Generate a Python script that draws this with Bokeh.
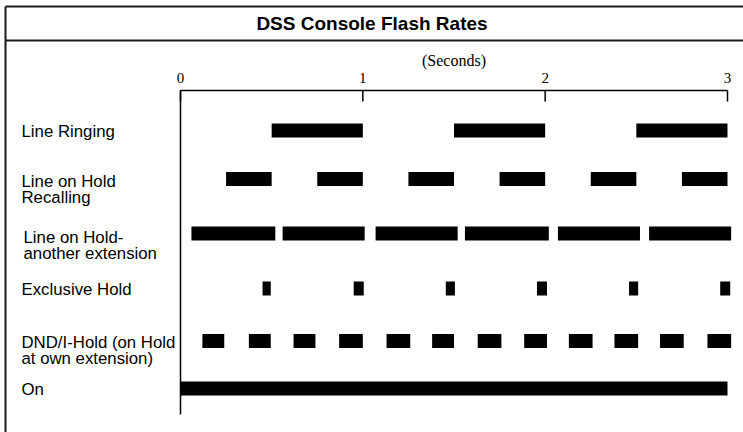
from bokeh.plotting import figure
from bokeh.models import Range1d, ColumnDataSource
from bokeh.core.properties import value
from bokeh.embed import file_html
from bokeh.resources import INLINE

# ---------------- data ----------------
title_text = "DSS Console Flash Rates"
axis_title = "(Seconds)"
tick_values = [0, 1, 2, 3]
tick_labels = ["0", "1", "2", "3"]

rows = [
    "Line Ringing",
    "Line on Hold\nRecalling",
    "Line on Hold-\nanother extension",
    "Exclusive Hold",
    "DND/I-Hold (on Hold\nat own extension)",
    "On",
]

ringing_start = [0.5, 1.5, 2.5]
ringing_end = [1.0, 2.0, 3.0]

recalling_start = [0.25, 0.75, 1.25, 1.75, 2.25, 2.75]
recalling_end = [0.5, 1.0, 1.5, 2.0, 2.5, 3.0]

another_start = [0.06, 0.56, 1.07, 1.56, 2.07, 2.57]
another_end = [0.52, 1.01, 1.52, 2.02, 2.52, 3.02]

exclusive_start = [0.45, 0.95, 1.455, 1.955, 2.46, 2.96]
exclusive_end = [0.495, 1.005, 1.505, 2.01, 2.51, 3.015]

dnd_start = [0.12, 0.375, 0.62, 0.87, 1.13, 1.38, 1.63, 1.885, 2.13, 2.38, 2.63, 2.89]
dnd_end = [0.24, 0.495, 0.74, 1.0, 1.26, 1.5, 1.76, 2.01, 2.26, 2.51, 2.76, 3.02]

on_start = [0.0]
on_end = [3.0]

row_starts = [ringing_start, recalling_start, another_start, exclusive_start, dnd_start, on_start]
row_ends = [ringing_end, recalling_end, another_end, exclusive_end, dnd_end, on_end]

# ---------------- layout (page pixels) ----------------
W, H = 743, 432
PX0, PY0 = 0, 0
X_ZERO, X_THREE = 180, 727           # page px of 0 s and 3 s
pps = (X_THREE - X_ZERO) / 3.0
x_start = (PX0 - X_ZERO) / pps
x_end = (PX0 + W - X_ZERO) / pps

ROW_Y = [130, 178.5, 233, 288, 340.5, 388]
LABEL_Y = [131, 181, 237, 289, 342, 389]
LABEL_X = [21, 21, 23, 21, 21, 21]
LINE_GAP = 16
BAR_H = 14
AXIS_Y = 90
TICK_LEN = 11
VLINE_END = 414

p = figure(width=W, height=H, output_backend="svg", toolbar_location=None,
           x_range=Range1d(x_start, x_end), y_range=Range1d(PY0 + H, PY0),
           x_axis_type=None, y_axis_type=None, min_border=0,
           background_fill_color="white", border_fill_color="white")
p.grid.visible = False
p.outline_line_color = None
p.extra_x_ranges = {"px": Range1d(PX0, PX0 + W)}

# frame / title band
p.segment(x0=[5, 5, 5], y0=[6, 40, 6],
          x1=[W, W, 5], y1=[6, 40, H],
          line_color="#1a1a1a", line_width=2, x_range_name="px")
p.text(x=[W / 2], y=[23], text=[title_text], text_font=value("Liberation Sans"),
       text_font_style="bold", text_font_size="19px", text_align="center",
       text_baseline="middle", text_color="black", x_range_name="px")

# axis
p.segment(x0=[tick_values[0]], y0=[AXIS_Y], x1=[tick_values[-1]], y1=[AXIS_Y],
          line_color="black", line_width=1.5)
p.segment(x0=tick_values, y0=[AXIS_Y] * len(tick_values), x1=tick_values,
          y1=[AXIS_Y + TICK_LEN] * len(tick_values), line_color="black", line_width=1.5)
p.segment(x0=[tick_values[0]], y0=[AXIS_Y], x1=[tick_values[0]], y1=[VLINE_END],
          line_color="black", line_width=1.5)
p.text(x=tick_values, y=[77] * len(tick_values), text=tick_labels,
       text_font=value("Liberation Serif"), text_font_size="15px",
       text_align="center", text_baseline="middle", text_color="black")
p.text(x=[(tick_values[0] + tick_values[-1]) / 2], y=[60], text=[axis_title],
       text_font=value("Liberation Serif"), text_font_size="16px",
       text_align="center", text_baseline="middle", text_color="black")

# bars
lefts, rights, ys = [], [], []
for i, (s, e) in enumerate(zip(row_starts, row_ends)):
    lefts += s
    rights += e
    ys += [ROW_Y[i]] * len(s)
src = ColumnDataSource(dict(left=lefts, right=rights, y=ys))
p.hbar(y="y", left="left", right="right", height=BAR_H, source=src,
       fill_color="black", line_color=None)

# row labels
lx, ly, lt = [], [], []
for i, r in enumerate(rows):
    for j, part in enumerate(r.split("\n")):
        lx.append(LABEL_X[i])
        ly.append(LABEL_Y[i] + j * LINE_GAP)
        lt.append(part)
p.text(x=lx, y=ly, text=lt, text_font=value("Liberation Sans"), text_font_size="16.8px",
       text_align="left", text_baseline="middle", text_color="black", x_range_name="px")

open("out.html", "w").write(file_html(p, INLINE))
